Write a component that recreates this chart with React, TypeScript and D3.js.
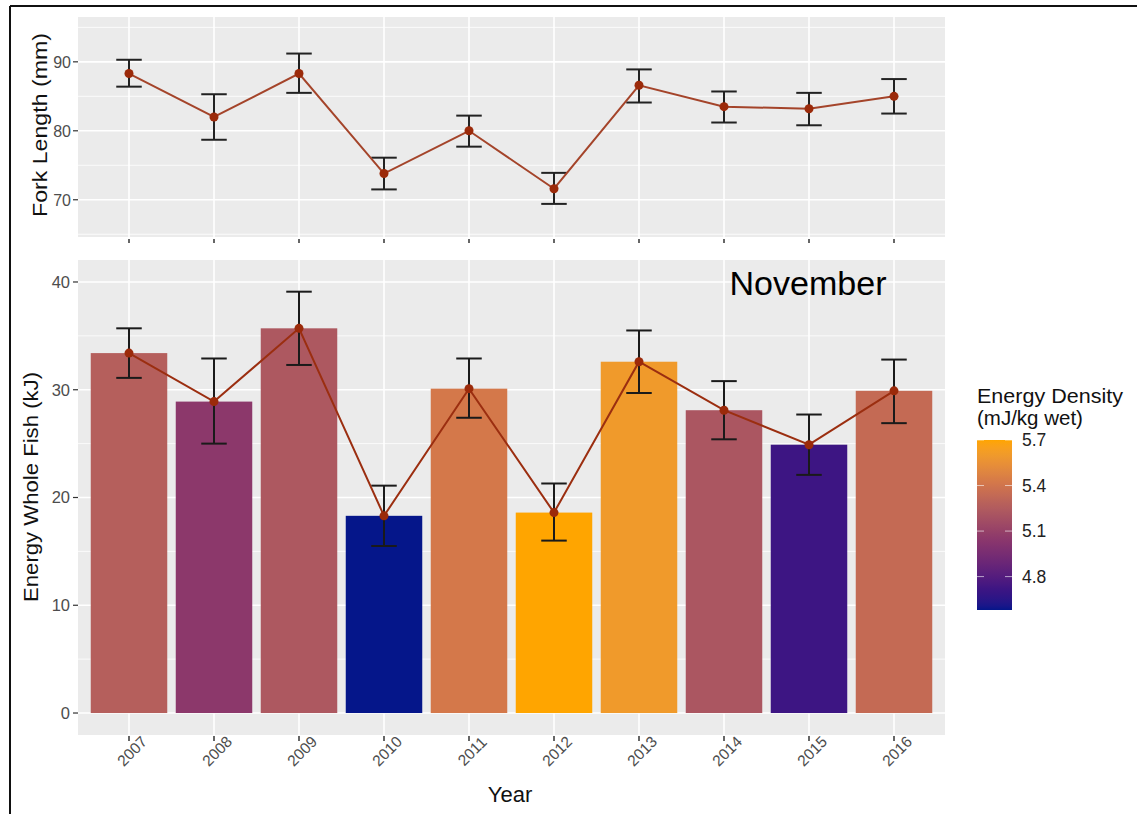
import React from "react";
import * as d3 from "d3";

const years = ["2007", "2008", "2009", "2010", "2011", "2012", "2013", "2014", "2015", "2016"];
const forkMean = [88.3, 82.0, 88.3, 73.8, 80.0, 71.6, 86.6, 83.5, 83.2, 85.0];
const forkLow = [86.4, 78.7, 85.5, 71.5, 77.7, 69.4, 84.1, 81.2, 80.8, 82.5];
const forkHigh = [90.3, 85.3, 91.2, 76.1, 82.2, 73.9, 88.9, 85.7, 85.5, 87.5];
const energyMean = [33.4, 28.9, 35.7, 18.3, 30.1, 18.6, 32.6, 28.1, 24.9, 29.9];
const energyLow = [31.1, 25.0, 32.3, 15.5, 27.4, 16.0, 29.7, 25.4, 22.1, 26.9];
const energyHigh = [35.7, 32.9, 39.1, 21.1, 32.9, 21.3, 35.5, 30.8, 27.7, 32.8];
const density = [5.27, 5.05, 5.23, 4.58, 5.42, 5.70, 5.60, 5.22, 4.72, 5.34];
const forkTicks = [70, 80, 90];
const forkMinor = [65, 75, 85, 95];
const energyTicks = [0, 10, 20, 30, 40];
const energyMinor = [5, 15, 25, 35];
const legendTicks = [4.8, 5.1, 5.4, 5.7];
const rampStops = [4.58, 4.72, 5.05, 5.23, 5.42, 5.6, 5.7];
const rampColors = ["#05168a", "#3d1583", "#8c386b", "#ad5860", "#d4784a", "#f09a2b", "#ffa500"];

const W = 1137;
const H = 814;
const PL = 78;
const PR = 945;
const T1 = 17;
const B1 = 237;
const T2 = 260;
const B2 = 735;

export default function App() {
  const step = (PR - PL) / (years.length + 0.2);
  const x = (i: number) => PL + step * (0.6 + i);
  const yTop = d3.scaleLinear().domain([64.6, 96.5]).range([B1, T1]);
  const yBot = d3.scaleLinear().domain([-2.04, 42.04]).range([B2, T2]);
  const dMin = 4.58, dMax = 5.70;
  const col = d3.scaleLinear<string>().domain(rampStops).range(rampColors).interpolate(d3.interpolateLab).clamp(true);
  const legY = d3.scaleLinear().domain([dMin, dMax]).range([610, 440]);
  const barW = step * 0.9;
  const capW = step * 0.3;
  const lineTop = d3.line<number>().x((_, i) => x(i)).y((d) => yTop(d));
  const lineBot = d3.line<number>().x((_, i) => x(i)).y((d) => yBot(d));
  const font = "Liberation Sans, Arial, sans-serif";
  const tickCol = "#4d4d4d";

  const stops = d3.range(0, 1.0001, 0.025);

  return (
    <svg width={W} height={H} style={{ position: "absolute", left: 0, top: 0 }} fontFamily={font}>
      <rect width={W} height={H} fill="#fff" />
      <line x1={10} x2={W} y1={6} y2={6} stroke="#111" strokeWidth={2} />
      <line x1={10} x2={10} y1={6} y2={H} stroke="#111" strokeWidth={2} />
      <defs>
        <linearGradient id="leg" x1="0" y1="1" x2="0" y2="0">
          {stops.map((t) => (
            <stop key={t} offset={t} stopColor={col(dMin + t * (dMax - dMin))} />
          ))}
        </linearGradient>
      </defs>

      {/* Top panel */}
      <rect x={PL} y={T1} width={PR - PL} height={B1 - T1} fill="#ebebeb" />
      {forkMinor.map((v) => (
        <line key={v} x1={PL} x2={PR} y1={yTop(v)} y2={yTop(v)} stroke="#fff" strokeWidth={0.8} />
      ))}
      {forkTicks.map((v) => (
        <line key={v} x1={PL} x2={PR} y1={yTop(v)} y2={yTop(v)} stroke="#fff" strokeWidth={1.6} />
      ))}
      {years.map((y, i) => (
        <line key={y} x1={x(i)} x2={x(i)} y1={T1} y2={B1} stroke="#fff" strokeWidth={1.6} />
      ))}
      {years.map((y, i) => (
        <g key={y}>
          <line x1={x(i)} x2={x(i)} y1={yTop(forkLow[i])} y2={yTop(forkHigh[i])} stroke="#222" strokeWidth={2} />
          <line x1={x(i) - capW / 2} x2={x(i) + capW / 2} y1={yTop(forkLow[i])} y2={yTop(forkLow[i])} stroke="#222" strokeWidth={2} />
          <line x1={x(i) - capW / 2} x2={x(i) + capW / 2} y1={yTop(forkHigh[i])} y2={yTop(forkHigh[i])} stroke="#222" strokeWidth={2} />
        </g>
      ))}
      <path d={lineTop(forkMean) || ""} fill="none" stroke="#a4442a" strokeWidth={2} />
      {forkMean.map((v, i) => (
        <circle key={i} cx={x(i)} cy={yTop(v)} r={4.5} fill="#9b2a0a" />
      ))}
      {forkTicks.map((v) => (
        <g key={v}>
          <line x1={PL - 5} x2={PL} y1={yTop(v)} y2={yTop(v)} stroke="#333" strokeWidth={1.2} />
          <text x={PL - 7} y={yTop(v)} dy="0.36em" textAnchor="end" fontSize={16} fill={tickCol}>{v}</text>
        </g>
      ))}
      {years.map((y, i) => (
        <line key={y} x1={x(i)} x2={x(i)} y1={B1 + 2} y2={B1 + 6} stroke="#333" strokeWidth={1.5} />
      ))}
      <text transform={`translate(47,${125}) rotate(-90)`} textAnchor="middle" fontSize={20} textLength={184} lengthAdjust="spacingAndGlyphs" fill="#111">Fork Length (mm)</text>

      {/* Bottom panel */}
      <rect x={PL} y={T2} width={PR - PL} height={B2 - T2} fill="#ebebeb" />
      {energyMinor.map((v) => (
        <line key={v} x1={PL} x2={PR} y1={yBot(v)} y2={yBot(v)} stroke="#fff" strokeWidth={0.8} />
      ))}
      {energyTicks.map((v) => (
        <line key={v} x1={PL} x2={PR} y1={yBot(v)} y2={yBot(v)} stroke="#fff" strokeWidth={1.6} />
      ))}
      {years.map((y, i) => (
        <line key={y} x1={x(i)} x2={x(i)} y1={T2} y2={B2} stroke="#fff" strokeWidth={1.6} />
      ))}
      <text x={808} y={295} textAnchor="middle" fontSize={34} textLength={157} lengthAdjust="spacingAndGlyphs" fill="#000">November</text>
      {years.map((y, i) => (
        <rect key={y} x={x(i) - barW / 2} y={yBot(energyMean[i])} width={barW} height={yBot(0) - yBot(energyMean[i])} fill={col(density[i])} />
      ))}
      {years.map((y, i) => (
        <g key={y}>
          <line x1={x(i)} x2={x(i)} y1={yBot(energyLow[i])} y2={yBot(energyHigh[i])} stroke="#1a1a1a" strokeWidth={2} />
          <line x1={x(i) - capW / 2} x2={x(i) + capW / 2} y1={yBot(energyLow[i])} y2={yBot(energyLow[i])} stroke="#1a1a1a" strokeWidth={2} />
          <line x1={x(i) - capW / 2} x2={x(i) + capW / 2} y1={yBot(energyHigh[i])} y2={yBot(energyHigh[i])} stroke="#1a1a1a" strokeWidth={2} />
        </g>
      ))}
      <path d={lineBot(energyMean) || ""} fill="none" stroke="#9b2e10" strokeWidth={2} />
      {energyMean.map((v, i) => (
        <circle key={i} cx={x(i)} cy={yBot(v)} r={4.5} fill="#9b2a0a" />
      ))}
      {energyTicks.map((v) => (
        <g key={v}>
          <line x1={PL - 5} x2={PL} y1={yBot(v)} y2={yBot(v)} stroke="#333" strokeWidth={1.2} />
          <text x={PL - 8} y={yBot(v)} dy="0.36em" textAnchor="end" fontSize={16.5} fill={tickCol}>{v}</text>
        </g>
      ))}
      {years.map((y, i) => (
        <g key={y}>
          <line x1={x(i)} x2={x(i)} y1={B2 + 1} y2={B2 + 6} stroke="#333" strokeWidth={1.5} />
          <text transform={`translate(${x(i) + 3},${B2 + 16}) rotate(-45)`} textAnchor="middle" dy="0.36em" fontSize={15.5} fill={tickCol}>{y}</text>
        </g>
      ))}
      <text transform={`translate(38,${487}) rotate(-90)`} textAnchor="middle" fontSize={21} textLength={230} lengthAdjust="spacingAndGlyphs" fill="#111">Energy Whole Fish (kJ)</text>
      <text x={510} y={802} textAnchor="middle" fontSize={22} fill="#111">Year</text>

      {/* Legend */}
      <text x={977} y={403} fontSize={20.5} textLength={146} lengthAdjust="spacingAndGlyphs" fill="#111">Energy Density</text>
      <text x={977} y={425} fontSize={20.5} fill="#111">(mJ/kg wet)</text>
      <rect x={977} y={440} width={35} height={170} fill="url(#leg)" />
      {legendTicks.map((v) => (
        <g key={v}>
          <line x1={977} x2={984} y1={legY(v)} y2={legY(v)} stroke="#fff" strokeOpacity={0.6} strokeWidth={1} />
          <line x1={1005} x2={1012} y1={legY(v)} y2={legY(v)} stroke="#fff" strokeOpacity={0.6} strokeWidth={1} />
          <text x={1022} y={legY(v)} dy="0.36em" fontSize={17.5} fill="#222">{v.toFixed(1)}</text>
        </g>
      ))}
    </svg>
  );
}
